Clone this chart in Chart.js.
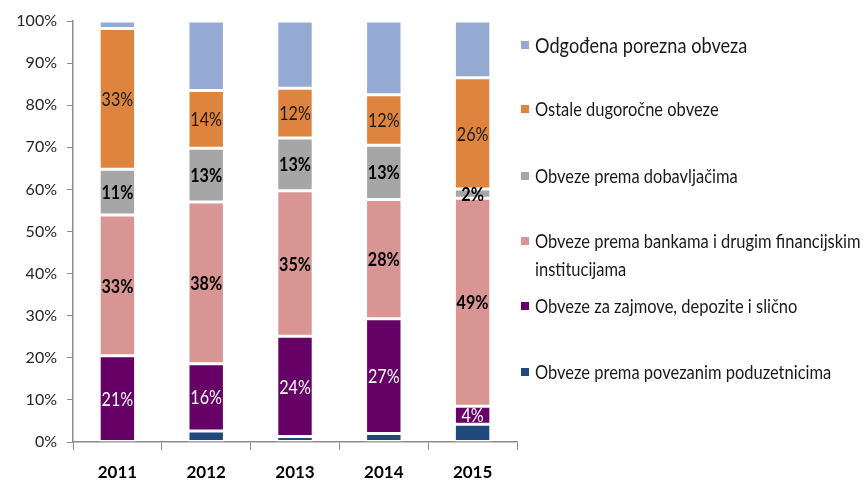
<!DOCTYPE html>
<html>
<head>
<meta charset="utf-8">
<script src="https://cdn.jsdelivr.net/npm/chart.js@4.4.1/dist/chart.umd.min.js"></script>
<style>
  html, body { margin: 0; padding: 0; background: #fff; }
  #wrap { position: relative; width: 865px; height: 480px; }
  canvas { position: absolute; left: 0; top: 0; }
  #legend { position: absolute; left: 521px; top: 0; width: 344px; height: 480px;
    font-family: Lato, "Liberation Sans", sans-serif; color: #1a1a1a; }
  .item { position: absolute; left: 0; line-height: 28px; }
  .item .sw { position: absolute; left: 0; top: 10px; width: 8px; height: 8px; }
  .item .tx { position: absolute; left: 14px; top: 0; white-space: nowrap;
    transform: scaleX(0.845); transform-origin: 0 50%; }
</style>
</head>
<body>
<div id="wrap">
  <canvas id="c" width="865" height="480"></canvas>
  <div id="legend"></div>
</div>
<script>
// ---- data ----
const categories = ['2011', '2012', '2013', '2014', '2015'];
const seriesNames = [
  'Obveze prema povezanim poduzetnicima',
  'Obveze za zajmove, depozite i slično',
  'Obveze prema bankama i drugim financijskim institucijama',
  'Obveze prema dobavljačima',
  'Ostale dugoročne obveze',
  'Odgođena porezna obveza'
];
const povezani     = [0.0, 2.6, 1.3, 2.0, 4.2];
const zajmovi      = [20.5, 16.0, 23.8, 27.3, 4.3];
const banke        = [33.4, 38.4, 34.6, 28.3, 49.4];
const dobavljaci   = [10.9, 12.8, 12.5, 12.9, 2.2];
const ostale       = [33.4, 13.7, 11.8, 12.0, 26.4];
const odgodjena    = [1.8, 16.5, 16.0, 17.5, 13.5];
const yTicks = ['0%', '10%', '20%', '30%', '40%', '50%', '60%', '70%', '80%', '90%', '100%'];

// ---- styles ----
const FONT = 'Lato, "Liberation Sans", sans-serif';
const colors = ['#1f497d', '#660066', '#d99594', '#a6a6a6', '#de843f', '#95aad3'];
const seriesData = [povezani, zajmovi, banke, dobavljaci, ostale, odgodjena];
const labelStyles = [
  null,
  { font: 'normal 19px ' + FONT, color: '#ffffff' },
  { font: 'bold 19px ' + FONT, color: '#000000' },
  { font: 'bold 19px ' + FONT, color: '#000000' },
  { font: 'normal 19px ' + FONT, color: '#1a1a1a' },
  null
];

const segLabels = {
  id: 'segLabels',
  afterDatasetsDraw(chart) {
    const ctx = chart.ctx;
    chart.data.datasets.forEach((ds, di) => {
      const st = labelStyles[di];
      if (!st) return;
      const meta = chart.getDatasetMeta(di);
      meta.data.forEach((bar, i) => {
        const v = ds.data[i];
        ctx.save();
        ctx.font = st.font;
        ctx.fillStyle = st.color;
        ctx.textAlign = 'center';
        ctx.textBaseline = 'middle';
        ctx.translate(bar.x, (bar.y + bar.base) / 2 + 1);
        ctx.scale(0.85, 1);
        ctx.fillText(Math.round(v) + '%', 0, 0);
        ctx.restore();
      });
    });
  }
};

new Chart(document.getElementById('c'), {
  type: 'bar',
  data: {
    labels: categories,
    datasets: seriesData.map((d, i) => ({
      label: seriesNames[i],
      data: d,
      backgroundColor: colors[i],
      borderColor: '#ffffff',
      borderWidth: 1.5,
      borderSkipped: false,
      barPercentage: 0.41,
      categoryPercentage: 1.0
    }))
  },
  options: {
    responsive: false,
    animation: false,
    devicePixelRatio: 1,
    layout: { padding: { top: 21, right: 348, left: 0, bottom: 0 } },
    plugins: { legend: { display: false }, tooltip: { enabled: false } },
    scales: {
      x: {
        stacked: true,
        grid: { offset: true, drawOnChartArea: false, drawTicks: true, tickLength: 8, color: '#8c8c8c' },
        border: { color: '#8c8c8c', width: 1.5 },
        ticks: { font: { family: FONT, size: 17, weight: 'bold' }, color: '#000', padding: 12 },
        afterFit(scale) { scale.height = 38; }
      },
      y: {
        stacked: true,
        min: 0,
        max: 100,
        grid: { drawOnChartArea: false, drawTicks: true, tickLength: 6, color: '#8c8c8c' },
        border: { color: '#8c8c8c', width: 1.5 },
        ticks: {
          stepSize: 10,
          font: { family: FONT, size: 16 },
          color: '#262626',
          padding: 10,
          callback: (v) => yTicks[Math.round(v / 10)]
        },
        afterFit(scale) { scale.width = 73; }
      }
    }
  },
  plugins: [segLabels]
});

// ---- legend (top to bottom as in the reference) ----
const legendRows = [
  { s: 5, top: 31, size: 21.5 },
  { s: 4, top: 95, size: 19.5 },
  { s: 3, top: 162, size: 19.5 },
  { s: 2, top: 227, size: 19.5, lines: ['Obveze prema bankama i drugim financijskim', 'institucijama'] },
  { s: 1, top: 292, size: 19.5 },
  { s: 0, top: 358, size: 19.5 }
];
const lg = document.getElementById('legend');
legendRows.forEach(r => {
  const it = document.createElement('div');
  it.className = 'item';
  it.style.top = r.top + 'px';
  it.style.fontSize = r.size + 'px';
  const sw = document.createElement('div');
  sw.className = 'sw';
  sw.style.background = colors[r.s];
  it.appendChild(sw);
  const tx = document.createElement('div');
  tx.className = 'tx';
  tx.innerHTML = (r.lines ? r.lines : [seriesNames[r.s]]).join('<br>');
  it.appendChild(tx);
  lg.appendChild(it);
});
</script>
</body>
</html>
